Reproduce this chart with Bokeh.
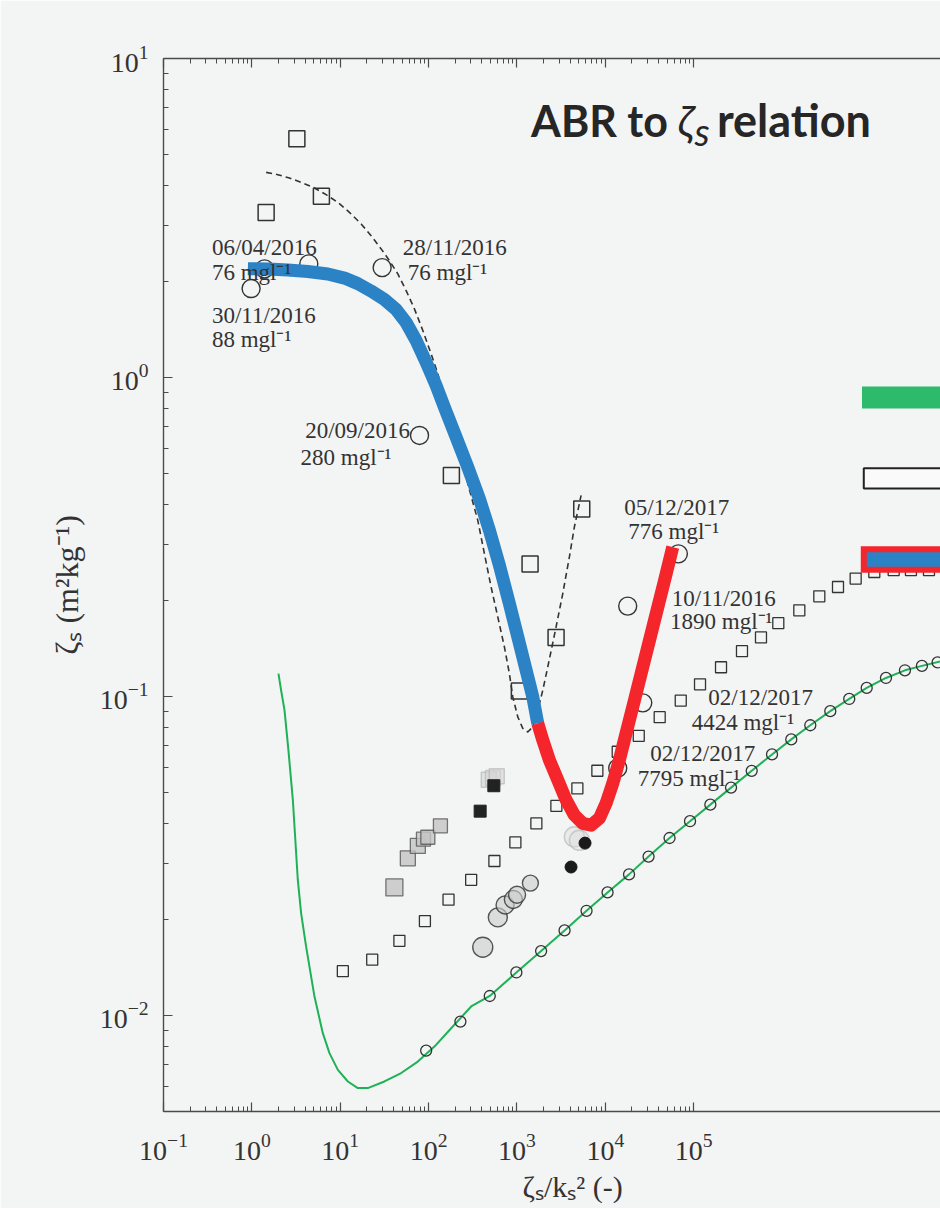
import numpy as np
from bokeh.plotting import figure
from bokeh.models import Range1d, FixedTicker, LogAxis, LogTickFormatter, BoxAnnotation, Title
from bokeh.core.properties import value
from bokeh.embed import file_html
from bokeh.resources import INLINE

# ---------------- data ----------------
# large open squares
sqb_x = [1.45, 3.23, 6.12, 181, 1064, 1406, 2768, 5405]
sqb_y = [3.29, 5.60, 3.70, 0.493, 0.104, 0.260, 0.153, 0.387]

# dashed fit curve
dash_x = [1.451, 1.968, 2.663, 3.612, 5.107, 6.926, 9.396, 12.71, 17.24, 22.37, 29.02, 36.04,
          44.84, 55.67, 69.09, 86.0, 106.7, 127.1, 150.9, 164.9, 213.9, 277.5, 360.2, 427.8,
          509.3, 606.6, 720.3, 820.4, 896.7, 1021, 1163, 1325, 1509, 1719, 1958, 2231, 2769,
          3297, 3915, 4459, 5080, 5311]
dash_y = [4.395, 4.323, 4.221, 4.090, 3.928, 3.742, 3.540, 3.294, 3.030, 2.784, 2.530, 2.325,
          2.112, 1.873, 1.641, 1.404, 1.186, 1.027, 0.868, 0.7697, 0.6047, 0.4647, 0.3565,
          0.2804, 0.2205, 0.1775, 0.1430, 0.1180, 0.0997, 0.0863, 0.0794, 0.0774, 0.0803,
          0.0906, 0.1046, 0.1238, 0.1652, 0.2102, 0.2736, 0.3398, 0.4022, 0.4270]

# thick relation curve: blue branch and red branch
blue_x = [0.901, 1.517, 2.554, 4.30, 7.24, 11.16, 15.82, 22.37, 31.62, 42.89, 55.67, 72.2,
          93.7, 121.6, 150.9, 204.7, 277.5, 375.6, 487.4, 632.3, 820.4, 1021, 1268, 1509, 1719]
blue_y = [2.194, 2.187, 2.171, 2.148, 2.110, 2.049, 1.969, 1.866, 1.755, 1.633, 1.487, 1.306,
          1.117, 0.944, 0.807, 0.650, 0.524, 0.417, 0.3318, 0.2577, 0.1956, 0.1537, 0.1209,
          0.0997, 0.0823]
red_x = [1719, 1958, 2325, 2894, 3593, 4459, 5551, 6891, 8553, 10180, 12130, 14400, 16400,
         21330, 31550, 46700, 57870]
red_y = [0.0823, 0.0730, 0.0632, 0.0547, 0.0474, 0.0425, 0.0400, 0.0395, 0.0415, 0.0462,
         0.0534, 0.0632, 0.0730, 0.0973, 0.150, 0.231, 0.2939]

# labelled open circles
oc_x = [0.98, 1.39, 4.41, 29.8, 78.9, 67000, 17900, 26500, 13800]
oc_y = [1.90, 2.19, 2.27, 2.21, 0.658, 0.280, 0.192, 0.0955, 0.0596]

# small open squares series
sqs_x = [10.7, 23.0, 46.7, 90.8, 168, 303, 555, 959, 1657, 2790, 4823, 8120, 13800, 23870,
         41200, 71300, 117800, 203600, 351600, 576800, 905700, 1.566e6, 2.637e6, 4.29e6,
         6.8e6, 1.105e7, 1.83e7, 2.87e7, 4.59e7]
sqs_y = [0.01377, 0.01496, 0.01714, 0.01977, 0.02307, 0.02662, 0.03050, 0.03491, 0.04000,
         0.04540, 0.05150, 0.05850, 0.0671, 0.0753, 0.0861, 0.0971, 0.1092, 0.1235, 0.1387,
         0.1532, 0.1698, 0.1862, 0.2061, 0.2204, 0.2343, 0.2456, 0.249, 0.249, 0.249]

# small open circles series
ocs_x = [93.8, 229, 492, 984, 1875, 3454, 6124, 10590, 18540, 30820, 53250, 90800, 154200,
         264300, 453000, 769000, 1.27e6, 2.085e6, 3.51e6, 5.75e6, 9.06e6, 1.497e7, 2.455e7,
         3.82e7, 5.75e7]
ocs_y = [0.00776, 0.00957, 0.01151, 0.01364, 0.01592, 0.01848, 0.02129, 0.02431, 0.02769,
         0.03148, 0.03600, 0.04064, 0.04581, 0.05180, 0.05848, 0.06582, 0.07336, 0.08124,
         0.08993, 0.09823, 0.1064, 0.1143, 0.1208, 0.1247, 0.1279]

# green model curve
grn_x = [2.0, 2.14, 2.34, 2.59, 2.91, 3.31, 3.61, 4.11, 5.11, 6.35, 7.55, 9.40, 12.2, 15.8,
         20.5, 31.6, 48.9, 75.5, 116.4, 180, 303, 492, 984, 1875, 3454, 6124, 10590, 18540,
         30820, 53250, 90800, 154200, 264300, 453000, 769000, 1.27e6, 2.085e6, 3.51e6,
         5.75e6, 9.06e6, 1.497e7, 2.455e7, 3.82e7, 6.27e7]
grn_y = [0.118, 0.1047, 0.0906, 0.0680, 0.0473, 0.0266, 0.0209, 0.01643, 0.01146, 0.00880,
         0.00762, 0.00675, 0.00621, 0.00592, 0.00592, 0.00621, 0.00660, 0.00717, 0.00799,
         0.00912, 0.01067, 0.01151, 0.01364, 0.01592, 0.01848, 0.02129, 0.02431, 0.02769,
         0.03148, 0.03600, 0.04064, 0.04581, 0.05180, 0.05848, 0.06582, 0.07336, 0.08124,
         0.08993, 0.09823, 0.1064, 0.1143, 0.1208, 0.1247, 0.129]

# grey filled squares
gsq_x = [41.0, 58.2, 75.5, 87.4, 98.0, 136]
gsq_y = [0.0252, 0.0311, 0.0340, 0.0357, 0.0362, 0.0393]
lsq_x = [480, 535, 590]
lsq_y = [0.0548, 0.0555, 0.0562]
bsq_x = [383, 547]
bsq_y = [0.0437, 0.0525]

# grey filled circles
gci_x = [410, 607, 733, 910, 1002, 1418]
gci_y = [0.01637, 0.0203, 0.0222, 0.0231, 0.0239, 0.0260]
lci_x = [4457, 5080]
lci_y = [0.0363, 0.0354]
bci_x = [5890, 4090]
bci_y = [0.0347, 0.0292]

# annotations
lab_text = ["06/04/2016", "76 mgl\u207b\u00b9", "30/11/2016", "88 mgl\u207b\u00b9",
            "28/11/2016", "76 mgl\u207b\u00b9", "20/09/2016", "280 mgl\u207b\u00b9",
            "05/12/2017", "776 mgl\u207b\u00b9", "10/11/2016", "1890 mgl\u207b\u00b9",
            "02/12/2017", "4424 mgl\u207b\u00b9", "02/12/2017", "7795 mgl\u207b\u00b9"]
lab_x = [0.3527, 0.3527, 0.3527, 0.3527, 51.0, 58.2, 4.01, 3.55, 16400, 18200, 56400, 53950,
         146200, 94800, 32300, 23280]
lab_y = [2.559, 2.137, 1.563, 1.312, 2.559, 2.137, 0.683, 0.563, 0.391, 0.328, 0.2028,
         0.1714, 0.0990, 0.0827, 0.0664, 0.0554]

x_major = [0.1, 1, 10, 1e2, 1e3, 1e4, 1e5]
x_minor = [m * 10.0 ** e for e in range(-1, 5) for m in range(2, 10)]
y_major = [0.01, 0.1, 1, 10]
y_minor = [m * 10.0 ** e for e in range(-3, 1) for m in range(2, 10) if 0.005 <= m * 10.0 ** e <= 10]

# ---------------- figure ----------------
BG = "#f3f4f4"
AX = "#4a4a4a"
SERIF = "Liberation Serif"

p = figure(width=940, height=1208, x_axis_type="log", y_axis_type="log",
           x_range=Range1d(0.1, 6.2e7), y_range=Range1d(0.005, 10),
           output_backend="svg", toolbar_location=None,
           min_border_left=163, min_border_top=58, min_border_right=0, min_border_bottom=97,
           background_fill_color=BG, border_fill_color=BG)
p.outline_line_color = None
p.xgrid.visible = False
p.ygrid.visible = False

def style_axis(ax, ticks, minor):
    ax.ticker = FixedTicker(ticks=ticks, minor_ticks=minor)
    ax.formatter = LogTickFormatter()
    ax.axis_line_color = AX
    ax.axis_line_width = 1.4
    ax.major_tick_line_color = AX
    ax.minor_tick_line_color = AX
    ax.major_tick_line_width = 1.2
    ax.minor_tick_line_width = 1.0
    ax.major_tick_in = 9
    ax.major_tick_out = 0
    ax.minor_tick_in = 5
    ax.minor_tick_out = 0
    ax.major_label_text_font = SERIF
    ax.major_label_text_font_size = "28px"
    ax.major_label_text_color = "#333333"

style_axis(p.xaxis[0], x_major, x_minor)
p.xaxis[0].major_label_standoff = 22
style_axis(p.yaxis[0], y_major, y_minor)
p.yaxis[0].major_label_standoff = 15
p.yaxis[0].axis_label = "\u03b6\u209b (m\u00b2kg\u207b\u00b9)"
p.yaxis[0].axis_label_text_font = SERIF
p.yaxis[0].axis_label_text_font_size = "32px"
p.yaxis[0].axis_label_text_font_style = "normal"
p.yaxis[0].axis_label_text_color = "#333333"
p.yaxis[0].axis_label_standoff = 12

top = LogAxis()
style_axis(top, x_major, x_minor)
top.major_label_text_alpha = 0
top.major_label_standoff = 0
p.add_layout(top, "above")

xlab = Title(text="\u03b6\u209b/k\u209b\u00b2 (-)", align="left", offset=359,
             text_font=SERIF, text_font_size="30px", text_font_style="normal",
             text_color="#333333")
p.add_layout(xlab, "below")

# glyphs
p.line(grn_x, grn_y, line_color="#1fb156", line_width=2)
p.scatter(ocs_x, ocs_y, marker="circle", size=11, fill_alpha=0, line_color="#333333", line_width=1.3)
p.scatter(sqs_x, sqs_y, marker="square", size=11, fill_alpha=0, line_color="#333333", line_width=1.3)
p.scatter(gsq_x, gsq_y, marker="square", size=[17, 15, 15, 14, 14, 14], fill_color="#c4c4c4",
          fill_alpha=0.8, line_color="#555555", line_width=1.3, line_alpha=0.8)
p.scatter(lsq_x, lsq_y, marker="square", size=15, fill_color="#d6d6d6", fill_alpha=0.6,
          line_color="#b8b8b8", line_width=1.5, line_alpha=0.7)
p.scatter(bsq_x, bsq_y, marker="square", size=12, fill_color="#222222", line_color="#222222")
p.scatter(gci_x, gci_y, marker="circle", size=[20, 19, 18, 18, 17, 16], fill_color="#cccccc",
          fill_alpha=0.6, line_color="#3a3a3a", line_width=1.4, line_alpha=0.85)
p.scatter(lci_x, lci_y, marker="circle", size=20, fill_color="#dddddd", fill_alpha=0.4,
          line_color="#bbbbbb", line_width=1.5, line_alpha=0.7)
p.scatter(bci_x, bci_y, marker="circle", size=12, fill_color="#1a1a1a", line_color="#1a1a1a")
p.scatter(sqb_x, sqb_y, marker="square", size=16, fill_alpha=0, line_color="#333333", line_width=1.5)
p.scatter(oc_x, oc_y, marker="circle", size=18, fill_alpha=0, line_color="#333333", line_width=1.4)
p.line(dash_x, dash_y, line_color="#333333", line_width=1.6, line_dash="6 4")
p.line(blue_x, blue_y, line_color="#2b83c6", line_width=13, line_join="round")
p.line(red_x, red_y, line_color="#f4262c", line_width=13, line_join="round")

p.text(lab_x, lab_y, text=lab_text, text_font=value(SERIF), text_font_size="23px",
       text_color="#333333", text_align="left", text_baseline="alphabetic")

# title pieces
ttl_font = value("Lato")
p.text([1444], [6.413], text=["ABR to"], text_font=ttl_font, text_font_size="43px",
       text_font_style="bold", text_color="#262626", text_align="left", text_baseline="alphabetic")
p.text([66000], [6.413], text=["\u03b6"], text_font=ttl_font, text_font_size="43px",
       text_font_style="italic", text_color="#262626", text_align="left", text_baseline="alphabetic")
p.text([102000], [5.937], text=["s"], text_font=ttl_font, text_font_size="38px",
       text_font_style="italic", text_color="#262626", text_align="left", text_baseline="alphabetic")
p.text([1.0132e7], [6.413], text=["relation"], text_font=ttl_font, text_font_size="45px",
       text_font_style="bold", text_color="#262626", text_align="right", text_baseline="alphabetic")

# legend swatches (labels cropped in the reference)
p.add_layout(BoxAnnotation(left=8.02e6, right=1e9, top=0.937, bottom=0.800,
                           fill_color="#2dbb6b", fill_alpha=1, line_alpha=0))
p.add_layout(BoxAnnotation(left=8.4e6, right=1e9, top=0.519, bottom=0.449,
                           fill_color="#fafafa", fill_alpha=1, line_color="#222222",
                           line_width=2, line_alpha=1))
p.add_layout(BoxAnnotation(left=8.4e6, right=1e9, top=0.2892, bottom=0.2498,
                           fill_color="#2b83c6", fill_alpha=1, line_color="#f4262c",
                           line_width=6, line_alpha=1, line_join="miter"))

open("out.html", "w").write(file_html(p, INLINE))
